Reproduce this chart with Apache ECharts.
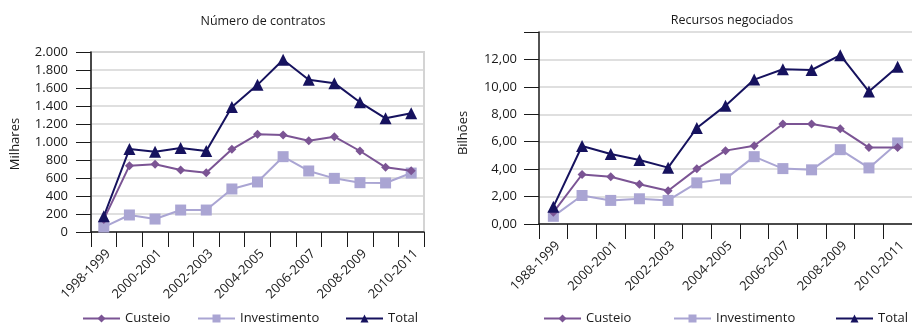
<!DOCTYPE html>
<html>
<head>
<meta charset="utf-8">
<script src="https://cdn.jsdelivr.net/npm/echarts@6/dist/echarts.min.js"></script>
<style>
  html, body { margin: 0; padding: 0; background: #fff; }
  #chart { width: 912px; height: 325px; }
</style>
</head>
<body>
<div id="chart"></div>
<script>
// Safras (Pronaf) – contratos e recursos por ano agrícola
const categoriesContratos = ['1998-1999', '1999-2000', '2000-2001', '2001-2002', '2002-2003', '2003-2004', '2004-2005',
  '2005-2006', '2006-2007', '2007-2008', '2008-2009', '2009-2010', '2010-2011'];
const categoriesRecursos = ['1988-1999', '1999-2000', '2000-2001', '2001-2002', '2002-2003', '2003-2004', '2004-2005',
  '2005-2006', '2006-2007', '2007-2008', '2008-2009', '2009-2010', '2010-2011'];

// Número de contratos (milhares)
const contratosCusteio      = [140, 737, 752, 689, 659, 919, 1085, 1078, 1015, 1059, 900, 719, 680];
const contratosInvestimento = [55, 189, 144, 244, 244, 478, 556, 837, 678, 596, 548, 545, 655];
const contratosTotal        = [175, 922, 892, 933, 900, 1390, 1635, 1914, 1691, 1654, 1441, 1263, 1320];

// Recursos negociados (bilhões)
const recursosCusteio      = [0.85, 3.61, 3.44, 2.90, 2.42, 4.02, 5.35, 5.71, 7.29, 7.29, 6.94, 5.57, 5.57];
const recursosInvestimento = [0.56, 2.08, 1.72, 1.84, 1.72, 3.00, 3.29, 4.91, 4.04, 3.95, 5.42, 4.09, 5.91];
const recursosTotal        = [1.25, 5.69, 5.11, 4.67, 4.11, 7.00, 8.63, 10.53, 11.28, 11.23, 12.31, 9.66, 11.47];

const colors = { Custeio: '#7b5494', Investimento: '#aaa5d3', Total: '#16125e' };
const symbols = { Custeio: 'diamond', Investimento: 'rect', Total: 'triangle' };
const symbolSizes = { Custeio: 9, Investimento: 11, Total: 12 };

const FONT = '"Open Sans", "Noto Sans", sans-serif';
const TXT = '#1a1a1a';

function lineSeries(name, data, idx) {
  return {
    name: name,
    type: 'line',
    xAxisIndex: idx,
    yAxisIndex: idx,
    data: data,
    symbol: symbols[name],
    symbolSize: symbolSizes[name],
    lineStyle: { color: colors[name], width: 2 },
    itemStyle: { color: colors[name] },
    z: name === 'Total' ? 4 : (name === 'Custeio' ? 3 : 2),
    animation: false
  };
}

function xAxis(cats, gridIndex) {
  return {
    type: 'category',
    gridIndex: gridIndex,
    data: cats,
    boundaryGap: true,
    axisLine: { lineStyle: { color: '#1a1a1a', width: 1.5 } },
    axisTick: { show: true, interval: 0, length: 15, lineStyle: { color: '#1a1a1a', width: 1 } },
    axisLabel: { interval: 1, rotate: 45, margin: 15, verticalAlign: 'top',
      color: TXT, fontFamily: FONT, fontSize: 13 },
    splitLine: { show: false }
  };
}

function legendItem(name, left, top) {
  return {
    data: [name],
    left: left,
    top: top,
    padding: 0,
    itemWidth: 37,
    itemHeight: 10,
    itemGap: 0,
    selectedMode: false,
    textStyle: { color: TXT, fontFamily: FONT, fontSize: 13 }
  };
}

const chart = echarts.init(document.getElementById('chart'), null, { renderer: 'canvas' });

chart.setOption({
  backgroundColor: '#ffffff',
  animation: false,
  title: [
    { text: 'Número de contratos', left: 258, top: 10, textAlign: 'center',
      textStyle: { color: TXT, fontFamily: FONT, fontSize: 12.5, fontWeight: 'normal' } },
    { text: 'Recursos negociados', left: 727, top: 9, textAlign: 'center',
      textStyle: { color: TXT, fontFamily: FONT, fontSize: 12.5, fontWeight: 'normal' } }
  ],
  grid: [
    { left: 91, top: 52, width: 333, height: 180, show: true, borderColor: '#d4d4d4', borderWidth: 2 },
    { left: 539, top: 32, width: 375, height: 192, show: false }
  ],
  xAxis: [xAxis(categoriesContratos, 0), xAxis(categoriesRecursos, 1)],
  yAxis: [
    {
      type: 'value', gridIndex: 0, min: 0, max: 2000, interval: 200,
      axisLine: { show: true, lineStyle: { color: '#1a1a1a', width: 1.5 } },
      axisTick: { show: true, length: 15, lineStyle: { color: '#1a1a1a' } },
      axisLabel: {
        margin: 23, color: TXT, fontFamily: FONT, fontSize: 13,
        formatter: v => v >= 1000 ? Math.floor(v / 1000) + '.' + String(v % 1000).padStart(3, '0') : String(v)
      },
      splitLine: { show: true, lineStyle: { color: '#d4d4d4', width: 1.5 } }
    },
    {
      type: 'value', gridIndex: 1, min: 0, max: 14, interval: 2,
      axisLine: { show: true, lineStyle: { color: '#1a1a1a', width: 1.5 } },
      axisTick: { show: true, length: 15, lineStyle: { color: '#1a1a1a' } },
      axisLabel: {
        margin: 22, color: TXT, fontFamily: FONT, fontSize: 13,
        formatter: v => v >= 14 ? '' : v.toFixed(2).replace('.', ',')
      },
      splitLine: { show: true, lineStyle: { color: '#d4d4d4', width: 1.5 } }
    }
  ],
  legend: [
    legendItem('Custeio', 82, 312),
    legendItem('Investimento', 197, 312),
    legendItem('Total', 345, 312),
    legendItem('Custeio', 543, 312),
    legendItem('Investimento', 673, 312),
    legendItem('Total', 835, 312)
  ],
  graphic: [
    { type: 'text', x: 15, y: 144, rotation: Math.PI / 2,
      style: { text: 'Milhares', fill: TXT, font: '13px ' + FONT, align: 'center', verticalAlign: 'middle' } },
    { type: 'text', x: 463, y: 133, rotation: Math.PI / 2,
      style: { text: 'Bilhões', fill: TXT, font: '13px ' + FONT, align: 'center', verticalAlign: 'middle' } }
  ],
  series: [
    lineSeries('Custeio', contratosCusteio, 0),
    lineSeries('Investimento', contratosInvestimento, 0),
    lineSeries('Total', contratosTotal, 0),
    lineSeries('Custeio', recursosCusteio, 1),
    lineSeries('Investimento', recursosInvestimento, 1),
    lineSeries('Total', recursosTotal, 1)
  ]
});
</script>
</body>
</html>
